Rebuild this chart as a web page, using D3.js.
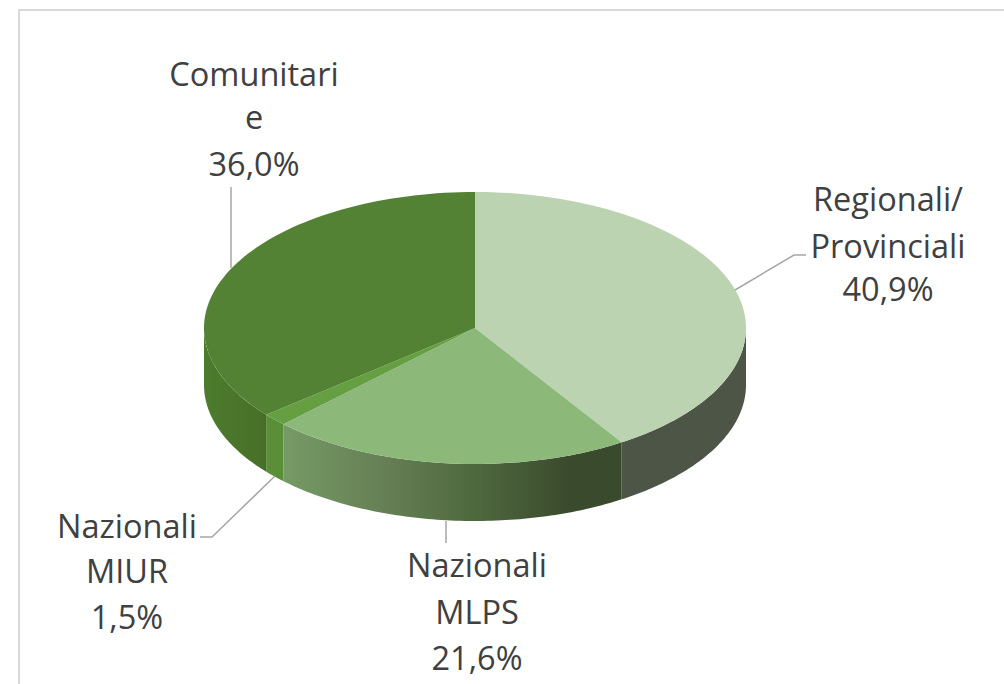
<!DOCTYPE html>
<html><head><meta charset="utf-8">
<script src="https://cdn.jsdelivr.net/npm/d3@7/dist/d3.min.js"></script>
<style>html,body{margin:0;padding:0;background:#fff;overflow:hidden}svg{display:block}text{font-family:"Open Sans","Noto Sans",sans-serif;font-size:32.5px;fill:#404040}</style>
</head><body><script>
const categories=["Regionali/Provinciali","Nazionali MLPS","Nazionali MIUR","Comunitarie"];
const values=[40.9,21.6,1.5,36.0];
const topColors=["#bbd3b0","#8cb97a","#659f41","#548235"];
const sideStops=[[["0","#4d5547"],["1","#4d5547"]],[["0","#769a66"],["0.3","#667f55"],["0.55","#506a40"],["0.85","#3a4a2d"],["1","#3a4a2d"]],[["0","#5a8f38"],["1","#5a8f38"]],[["0","#4d7c2e"],["0.95","#486f28"],["1","#466c27"]]];
const labelLines=[["Regionali/","Provinciali","40,9%"],["Nazionali","MLPS","21,6%"],["Nazionali","MIUR","1,5%"],["Comunitari","e","36,0%"]];

const W=1004,H=684,cx=475,cy=328,rx=271,ry=136,depth=57;
const svg=d3.select("body").append("svg").attr("width",W).attr("height",H);
svg.append("rect").attr("x",19).attr("y",10).attr("width",1100).attr("height",800).attr("fill","#fff").attr("stroke","#d9d9d9").attr("stroke-width",2);

const pie=d3.pie().sort(null).value(d=>d)(values);
const px=a=>cx+rx*Math.sin(a), py=a=>cy-ry*Math.cos(a);
const defs=svg.append("defs");
const arcTop=(a0,a1)=>{const p=d3.path();p.moveTo(cx,cy);
  const n=80;for(let i=0;i<=n;i++){const a=a0+(a1-a0)*i/n;p.lineTo(px(a),py(a));}p.closePath();return p.toString();};
const arcSide=(a0,a1)=>{const n=80,p=d3.path();
  for(let i=0;i<=n;i++){const a=a0+(a1-a0)*i/n;i?p.lineTo(px(a),py(a)):p.moveTo(px(a),py(a));}
  for(let i=n;i>=0;i--){const a=a0+(a1-a0)*i/n;p.lineTo(px(a),py(a)+depth);}p.closePath();return p.toString();};

const lo=Math.PI/2,hi=3*Math.PI/2;
pie.forEach((s,i)=>{
  const a0=Math.max(s.startAngle,lo),a1=Math.min(s.endAngle,hi);
  if(a1<=a0)return;
  const g=defs.append("linearGradient").attr("id","side"+i).attr("gradientUnits","userSpaceOnUse")
    .attr("x1",Math.min(px(a0),px(a1))).attr("x2",Math.max(px(a0),px(a1))).attr("y1",0).attr("y2",0);
  sideStops[i].forEach(st=>g.append("stop").attr("offset",st[0]).attr("stop-color",st[1]));
  svg.append("path").attr("d",arcSide(a0,a1)).attr("fill",`url(#side${i})`);
});
pie.forEach((s,i)=>svg.append("path").attr("d",arcTop(s.startAngle,s.endAngle)).attr("fill",topColors[i]));

const leaders=[[[735,290],[794,255],[806,255]],[[446,521],[446,543]],[[275,476],[212,537],[200,537]],[[231,268],[231,187]]];
const line=d3.line();
leaders.forEach(l=>svg.append("path").attr("d",line(l)).attr("fill","none").attr("stroke","#a6a6a6").attr("stroke-width",1.5));

const labelPos=[[888,[211,258,301]],[477,[577,624,670]],[127,[538,583,629]],[254,[86,129,176]]];
labelLines.forEach((ls,i)=>{
  const t=svg.append("text").attr("text-anchor","middle");
  ls.forEach((s,j)=>t.append("tspan").attr("x",labelPos[i][0]).attr("y",labelPos[i][1][j]).text(s));
});
</script></body></html>
